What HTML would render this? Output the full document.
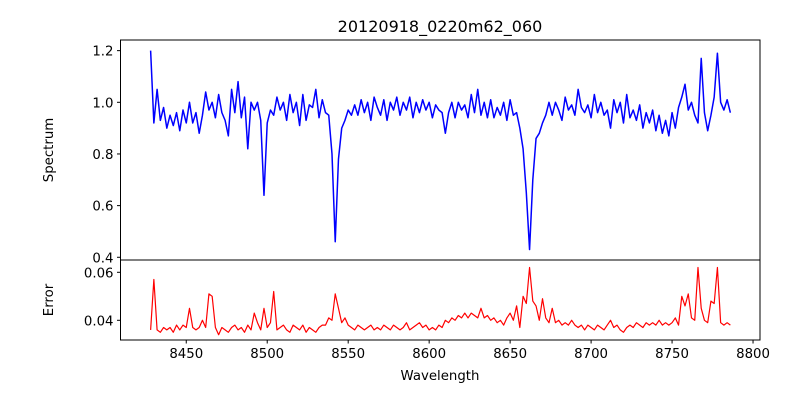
<!DOCTYPE html>
<html><head><meta charset="utf-8"><style>
body{margin:0;background:#fff}
svg text{font-family:"DejaVu Sans","Liberation Sans",sans-serif;fill:#000}
</style></head><body>
<svg id="chart" width="800" height="400" xmlns="http://www.w3.org/2000/svg">
<rect width="800" height="400" fill="#fff"/>
<text x="440" y="32" font-size="16" text-anchor="middle">20120918_0220m62_060</text>
<text transform="translate(53,150) rotate(-90)" font-size="13.3" text-anchor="middle">Spectrum</text>
<text transform="translate(53,300) rotate(-90)" font-size="13.3" text-anchor="middle">Error</text>
<text x="440" y="380" font-size="13.3" text-anchor="middle">Wavelength</text>
<g id="marks"></g>
</svg>
<script>
const waveStart = 8428;
const waveStep = 2;
const spectrum = [1.20,0.92,1.05,0.93,0.98,0.90,0.95,0.91,0.96,0.89,0.97,0.92,1.00,0.92,0.96,0.88,0.95,1.04,0.97,1.00,0.94,1.03,0.96,0.93,0.87,1.05,0.96,1.08,0.94,1.02,0.82,1.00,0.97,1.00,0.93,0.64,0.92,0.97,0.95,1.02,0.97,1.00,0.93,1.03,0.96,1.00,0.91,1.03,0.93,0.99,0.98,1.05,0.94,1.01,0.96,0.95,0.80,0.46,0.78,0.90,0.93,0.97,0.95,0.99,0.95,1.01,0.96,1.00,0.93,1.02,0.98,0.95,1.01,0.93,1.00,0.97,1.02,0.95,1.00,0.97,1.02,0.94,1.00,0.96,1.01,0.97,1.00,0.94,0.99,0.97,0.96,0.88,0.96,1.00,0.94,1.00,0.97,0.99,0.94,1.03,0.96,1.05,0.95,1.00,0.94,1.01,0.94,0.98,0.95,1.00,0.93,1.01,0.95,0.96,0.90,0.82,0.65,0.43,0.70,0.86,0.88,0.92,0.95,1.00,0.95,1.00,0.97,0.93,1.02,0.97,0.99,0.95,1.05,0.98,0.96,0.99,0.94,1.03,0.96,1.00,0.95,0.97,0.90,1.01,0.96,1.00,0.92,1.03,0.94,0.97,0.93,0.99,0.90,0.96,0.92,0.97,0.89,0.95,0.88,0.93,0.87,0.96,0.90,0.98,1.02,1.07,0.97,1.00,0.95,0.92,1.17,0.96,0.89,0.95,1.02,1.19,1.00,0.97,1.01,0.96];
const errors = [0.036,0.057,0.036,0.035,0.037,0.036,0.037,0.035,0.038,0.036,0.038,0.037,0.045,0.037,0.036,0.037,0.040,0.037,0.051,0.050,0.037,0.034,0.037,0.036,0.035,0.037,0.038,0.036,0.037,0.035,0.038,0.036,0.043,0.039,0.036,0.045,0.037,0.039,0.052,0.036,0.037,0.038,0.036,0.035,0.038,0.037,0.036,0.038,0.035,0.037,0.036,0.035,0.037,0.038,0.038,0.041,0.040,0.051,0.045,0.039,0.041,0.038,0.037,0.036,0.038,0.037,0.036,0.037,0.038,0.036,0.037,0.036,0.038,0.037,0.036,0.038,0.037,0.036,0.037,0.039,0.036,0.037,0.038,0.039,0.037,0.038,0.036,0.037,0.036,0.038,0.037,0.040,0.039,0.041,0.040,0.042,0.041,0.043,0.041,0.043,0.042,0.041,0.045,0.041,0.042,0.040,0.041,0.039,0.040,0.038,0.041,0.043,0.040,0.046,0.037,0.050,0.047,0.062,0.048,0.046,0.040,0.049,0.041,0.039,0.045,0.039,0.040,0.038,0.039,0.038,0.040,0.038,0.037,0.038,0.036,0.038,0.037,0.036,0.038,0.037,0.036,0.038,0.040,0.037,0.038,0.036,0.035,0.037,0.038,0.037,0.039,0.038,0.037,0.039,0.038,0.039,0.038,0.040,0.038,0.039,0.038,0.039,0.041,0.038,0.050,0.046,0.051,0.041,0.040,0.062,0.045,0.040,0.039,0.048,0.047,0.062,0.039,0.038,0.039,0.038];
const xTicks = [8450,8500,8550,8600,8650,8700,8750,8800];
const specTicks = [0.4,0.6,0.8,1.0,1.2];
const specTickLabels = ["0.4","0.6","0.8","1.0","1.2"];
const errTicks = [0.04,0.06];
const errTickLabels = ["0.04","0.06"];

const NS = "http://www.w3.org/2000/svg";
const L = 120.5, R = 760, T1 = 40, B1 = 260, B2 = 340;
const xMin = 8409.4, xMax = 8804.3;
const xs = v => L + (v - xMin) / (xMax - xMin) * (R - L);
const ys1 = v => 102.3 - (v - 1.0) * 258.3;
const ys2 = v => 320.3 - (v - 0.04) * 2400;
const g = document.getElementById('marks');
function mk(tag, attrs) { const e = document.createElementNS(NS, tag); for (const k in attrs) e.setAttribute(k, attrs[k]); g.appendChild(e); return e; }

let d1 = '';
for (let i = 0; i < spectrum.length; i++) { const w = waveStart + i * waveStep; d1 += (i ? 'L' : 'M') + xs(w).toFixed(2) + ',' + ys1(spectrum[i]).toFixed(2); }
const p1 = mk('path', {d: d1, fill: 'none', stroke: '#0000ff', 'stroke-width': 1.5, 'stroke-linejoin': 'round'});



let d2 = '';
for (let i = 0; i < errors.length; i++) { const w = waveStart + i * waveStep; d2 += (i ? 'L' : 'M') + xs(w).toFixed(2) + ',' + ys2(errors[i]).toFixed(2); }
const p2 = mk('path', {d: d2, fill: 'none', stroke: '#ff0000', 'stroke-width': 1.2, 'stroke-linejoin': 'round'});



const f1 = mk('rect', {x: L, y: T1, width: R - L, height: B1 - T1, fill: 'none', stroke: '#000', 'stroke-width': 1});


const f2 = mk('rect', {x: L, y: B1, width: R - L, height: B2 - B1, fill: 'none', stroke: '#000', 'stroke-width': 1});



xTicks.forEach(v => {
  const x = xs(v);
  const t = mk('line', {x1: x, x2: x, y1: B2, y2: B2 + 3.5, stroke: '#000'});
  
  
  const tx = mk('text', {x: x, y: B2 + 18, 'font-size': 13.3, 'text-anchor': 'middle'});
  tx.textContent = String(v);
  
  
});
specTicks.forEach((v, i) => {
  const y = ys1(v);
  const t = mk('line', {x1: L - 3.5, x2: L, y1: y, y2: y, stroke: '#000'});
  
  
  const tx = mk('text', {x: L - 7, y: y + 5, 'font-size': 13.3, 'text-anchor': 'end'});
  tx.textContent = specTickLabels[i];
  
  
});
errTicks.forEach((v, i) => {
  const y = ys2(v);
  const t = mk('line', {x1: L - 3.5, x2: L, y1: y, y2: y, stroke: '#000'});
  
  
  const tx = mk('text', {x: L - 7, y: y + 5, 'font-size': 13.3, 'text-anchor': 'end'});
  tx.textContent = errTickLabels[i];
  
  
});
</script>
</body></html>
